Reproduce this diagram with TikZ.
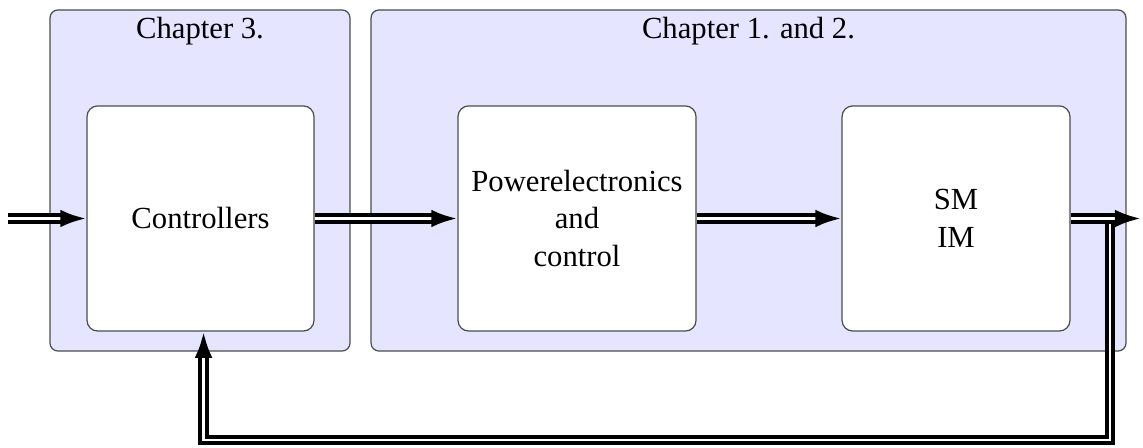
\documentclass[tikz,border=0pt]{standalone}
\usepackage{fontspec}
\setmainfont{Liberation Serif}
\usetikzlibrary{arrows.meta}
\begin{document}
\begin{tikzpicture}[x=0.326pt,y=-0.326pt,
  chapbox/.style={draw=black!70,fill=blue!10,rounded corners=2.6pt,minimum height=111.2pt,inner sep=0pt},
  blockbox/.style={draw=black!70,fill=white,rounded corners=3.5pt,minimum height=73.4pt,align=center,inner sep=0pt,font=\fontsize{10}{12.3}\selectfont},
  dbl/.style={double,line width=1.35pt,double distance=0.75pt,-{Latex[length=8.5pt,width=5.8pt]}},
  title/.style={font=\fontsize{10}{12}\selectfont}]
\useasboundingbox (0,0) rectangle (1143,448);
\node[chapbox,minimum width=97.8pt] (c3) at (200,180.5) {};
\node[chapbox,minimum width=246.1pt] (c12) at (748.5,180.5) {};
\node[title] (t3) at (200,31) {Chapter 3.};
\node[title] (t12) at (748.5,31) {Chapter 1. and 2.};
\node[blockbox,minimum width=74pt] (ctrl) at (200.5,218.5) {Controllers};
\node[blockbox,minimum width=77.6pt] (pe) at (577,218.5) {Powerelectronics\\and\\control};
\node[blockbox,minimum width=74.3pt] (sm) at (956,218.5) {SM\\IM};
\coordinate (in) at (8,218.5);
\coordinate (out) at (1141,218.5);
\coordinate (fb) at (1110,218.5);
\coordinate (bot) at (1110,440);
\draw[dbl] (in) -- (ctrl.west);
\draw[dbl] (ctrl.east) -- (pe.west);
\draw[dbl] (pe.east) -- (sm.west);
\draw[dbl] (fb) -- (bot) -| ([xshift=1pt]ctrl.south);
\draw[dbl] (sm.east) -- (out);
\end{tikzpicture}
\end{document}
